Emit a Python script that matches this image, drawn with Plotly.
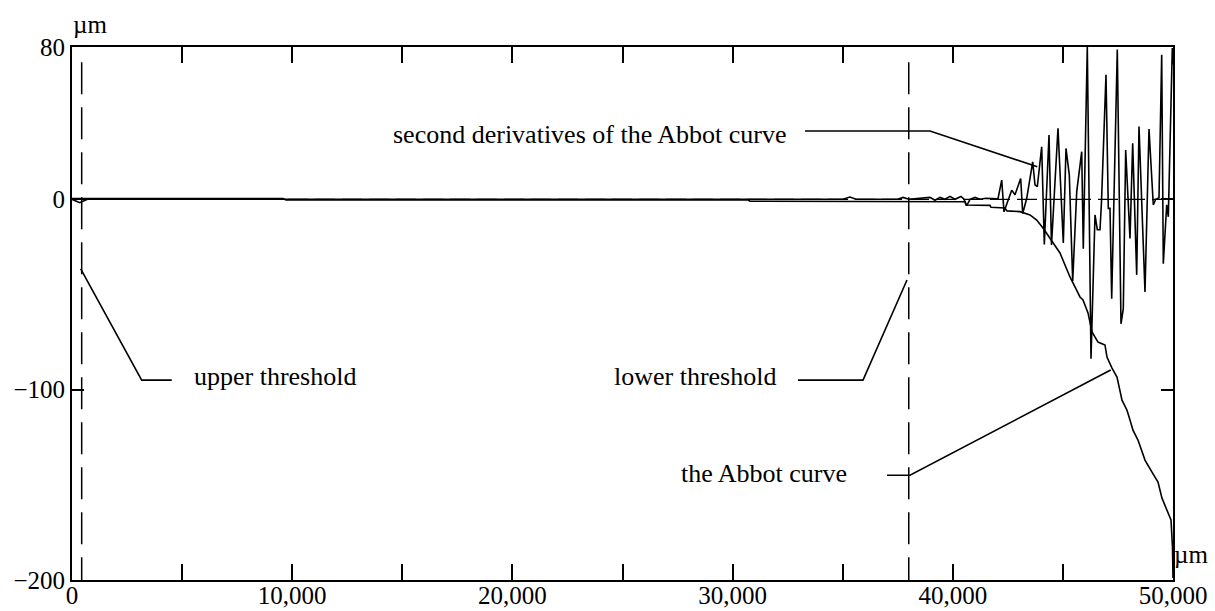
import plotly.graph_objects as go

# Abbot (bearing) curve, µm vs µm
abbot_x = [0, 9582, 9718, 30699, 30790, 37965, 40554, 40599, 41689, 41734,
           42370, 42461, 43052, 43506, 43810, 44096, 44550, 44868, 45322, 45776,
           45913, 46140, 46321, 46594, 46912, 47002, 47230, 47457, 47684, 47911,
           48047, 48183, 48410, 48728, 49046, 49319, 49500, 49727, 49909, 49977,
           50000]
abbot_y = [0.4, 0.4, -0.3, -0.3, -1.0, -1.2, -1.3, -3.0, -3.2, -4.2,
           -4.6, -6.1, -6.5, -8.2, -10.9, -15.1, -23.0, -28.2, -40.8, -51.3,
           -52.9, -59.7, -69.7, -75.0, -76.6, -82.9, -88.7, -93.4, -105.5, -110.8,
           -116.0, -121.3, -126.5, -137.0, -143.3, -148.6, -157.0, -163.3, -168.5, -182.7,
           -199.0]

# Second derivatives of the Abbot curve
d2_x = [0, 350, 700, 35000, 35330, 35600, 37500, 37740, 38000, 38964,
        39191, 39418, 39646, 39873, 40100, 40372, 40508, 40631, 40781, 41008,
        41235, 41508, 42053, 42221, 42325, 42675, 42825, 43083, 43174, 43356,
        43628, 43733, 43838, 44037, 44156, 44369, 44482, 44777, 45018, 45141,
        45291, 45445, 45627, 45854, 45926, 46108, 46276, 46458, 46563, 46685,
        46753, 46957, 47062, 47139, 47216, 47470, 47638, 47743, 47851, 48047,
        48169, 48351, 48456, 48728, 48910, 49105, 49214, 49364, 49487, 49560,
        49714, 49787, 49968, 50000]
d2_y = [0, -1.8, 0, 0, 1.2, 0, 0, 1.0, 0, 1.0,
        -0.5, 1.0, 0, 1.5, 0, 1.5, 0, -3.4, 0, 1.0,
        0, 0.5, 0.3, 10.1, -6.6, 4.8, 2.4, 10.9, -7.5, 0.4,
        19.7, 7.6, 6.6, 27.6, -23.8, 33.8, -24.0, 37.3, -22.9, 26.7,
        12.7, -42.9, 3.9, 25.0, -26.0, 80.0, -83.8, -8.2, -16.0, -16.0,
        -1.3, 65.4, -4.8, -4.8, -52.2, 78.7, -65.4, -57.5, 25.9, -20.6,
        29.4, -39.7, 38.2, -48.7, 36.9, -2.9, 0, 0.8, 75.9, -33.8,
        -2.9, -9.2, 79.4, 70.8]

# Upper and lower threshold positions (µm)
threshold_x = [440, 38000]
threshold_top = 72

x_range = [0, 50000]
y_range = [-200, 80]
x_ticks = list(range(0, 50001, 5000))
x_labels = [f"{v:,}" if v % 10000 == 0 else "" for v in x_ticks]
y_ticks = [-200, -100, 0, 80]

FONT = "'Times New Roman', 'Liberation Serif', Tinos, serif"
FS = 25
FS_NOTE = 26
INK = "black"

fig = go.Figure()

# dashed zero reference
fig.add_trace(go.Scatter(x=x_range, y=[0, 0], mode="lines",
                         line=dict(color=INK, width=1.3, dash="20px,7px"),
                         hoverinfo="skip", showlegend=False))

# threshold markers
for tx in threshold_x:
    fig.add_trace(go.Scatter(x=[tx, tx], y=[threshold_top, y_range[0]], mode="lines",
                             line=dict(color=INK, width=1.5, dash="32px,13px"),
                             hoverinfo="skip", showlegend=False))

fig.add_trace(go.Scatter(x=abbot_x, y=abbot_y, mode="lines", name="the Abbot curve",
                         line=dict(color=INK, width=1.6), showlegend=False))
fig.add_trace(go.Scatter(x=d2_x, y=d2_y, mode="lines",
                         name="second derivatives of the Abbot curve",
                         line=dict(color=INK, width=1.6), showlegend=False))

# callout labels with leader lines: (text, text x, text y, leader path)
callouts = [
    ("second derivatives of the Abbot curve", 23524, 34.0,
     [(33287, 35.9), (38964, 35.9), (43838, 17.1)]),
    ("upper threshold", 9219, -93.0,
     [(4528, -95.0), (3165, -95.0), (395, -36.6)]),
    ("lower threshold", 28292, -93.0,
     [(32970, -95.0), (35922, -95.0), (37920, -42.4)]),
    ("the Abbot curve", 31426, -144.0,
     [(37012, -145.0), (38056, -145.0), (47170, -89.7)]),
]
for text, tx, ty, path in callouts:
    fig.add_annotation(x=tx, y=ty, text=text, showarrow=False,
                       xanchor="center", yanchor="middle",
                       font=dict(family=FONT, size=FS_NOTE, color=INK))
    d = "M " + " L ".join(f"{px},{py}" for px, py in path)
    fig.add_shape(type="path", path=d, xref="x", yref="y",
                  line=dict(color=INK, width=1.6))

# unit labels
fig.add_annotation(xref="paper", yref="paper", x=0.0164, y=1.043, text="µm",
                   showarrow=False, xanchor="center", yanchor="middle",
                   font=dict(family=FONT, size=FS, color=INK))
fig.add_annotation(xref="paper", yref="paper", x=1.0164, y=0.047, text="µm",
                   showarrow=False, xanchor="center", yanchor="middle",
                   font=dict(family=FONT, size=FS, color=INK))

fig.update_xaxes(range=x_range, tickmode="array", tickvals=x_ticks, ticktext=x_labels,
                 ticks="inside", ticklen=16, tickwidth=1.6, tickcolor=INK,
                 showline=True, linecolor=INK, linewidth=2, mirror="ticks",
                 showgrid=False, zeroline=False, ticklabelstandoff=-8, automargin=False,
                 tickfont=dict(family=FONT, size=FS, color=INK))
fig.update_yaxes(range=y_range, tickmode="array", tickvals=y_ticks,
                 ticktext=["\u2212200", "\u2212100", "0", "80"],
                 ticks="inside", ticklen=12, tickwidth=1.6, tickcolor=INK,
                 showline=True, linecolor=INK, linewidth=2, mirror="ticks",
                 showgrid=False, zeroline=False, ticklabelstandoff=0, automargin=False,
                 tickfont=dict(family=FONT, size=FS, color=INK))

fig.update_layout(width=1215, height=611, margin=dict(l=72, r=42, t=47, b=31),
                  paper_bgcolor="white", plot_bgcolor="white", showlegend=False,
                  font=dict(family=FONT, size=FS, color=INK))

fig.write_html("out.html")
